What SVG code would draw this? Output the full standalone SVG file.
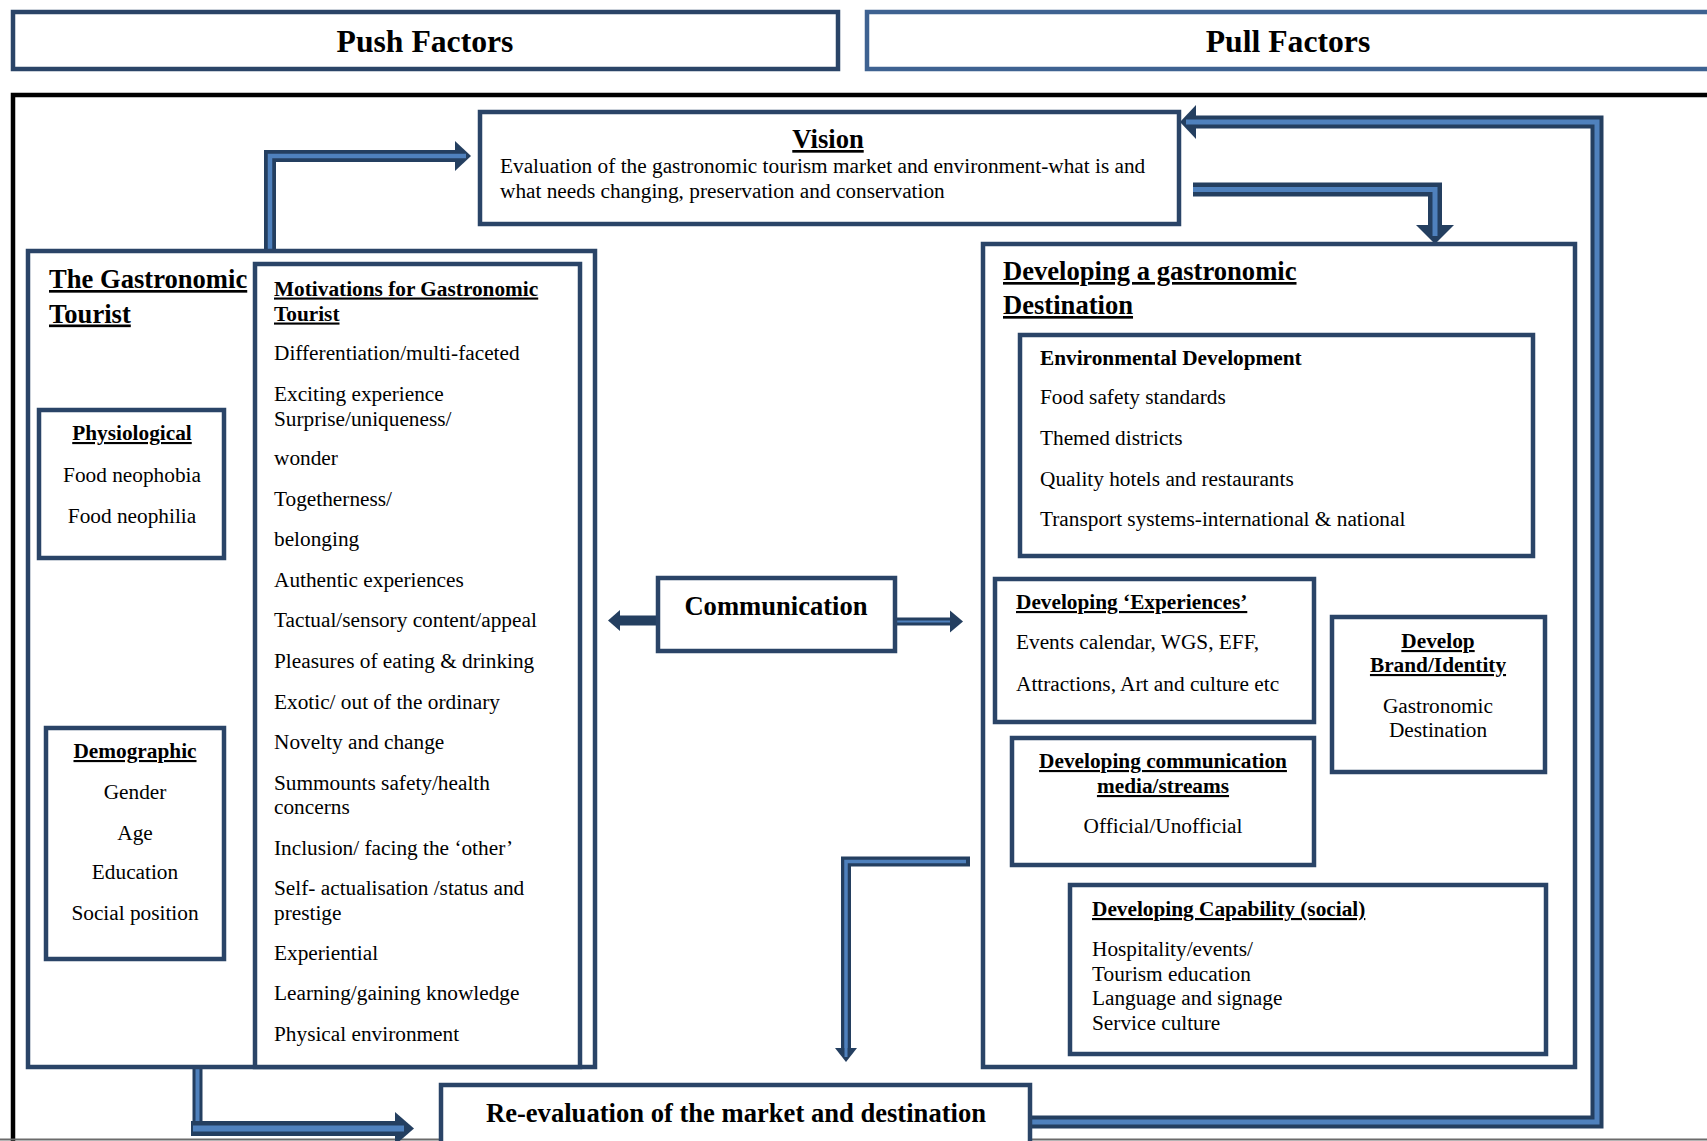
<svg xmlns="http://www.w3.org/2000/svg" width="1707" height="1141" viewBox="0 0 1707 1141">
  <style>
    .box { fill: #ffffff; stroke: #2A4467; stroke-width: 4.5; }
    .pull { fill: #ffffff; stroke: #3E6291; stroke-width: 4.5; }
    .frame { fill: none; stroke: #000000; stroke-width: 4.5; }
    .t { font-family: "Liberation Serif", "Times New Roman", serif; font-size: 21.3px; fill: #000000; }
    .b { font-weight: bold; }
    .u { text-decoration: underline; }
    .h { font-size: 26.6px; font-weight: bold; }
    .top { font-size: 31.7px; font-weight: bold; }
    .mid { text-anchor: middle; }
    .shaft { fill: none; stroke: #243F60; stroke-linejoin: miter; stroke-linecap: butt; }
    .core { fill: none; stroke: #4F81BD; stroke-linejoin: miter; stroke-linecap: butt; }
    .head { fill: #243F60; }
  </style>

  <rect width="1707" height="1141" fill="#ffffff"/>

  <!-- header bars -->
  <g id="push-factors">
    <rect class="box" x="13" y="12" width="825" height="57"/>
    <text class="t top mid" x="425" y="52">Push Factors</text>
  </g>
  <g id="pull-factors">
    <rect class="pull" x="867" y="12" width="900" height="57"/>
    <text class="t top mid" x="1288" y="52">Pull Factors</text>
  </g>

  <!-- outer frame -->
  <path class="frame" d="M1720,95 H13 V1145"/>
  <line x1="0" y1="1139.5" x2="1707" y2="1139.5" stroke="#6b6b6b" stroke-width="2"/>

  <!-- connectors -->
  <g id="connectors">
    <!-- tourist to vision -->
    <path class="shaft" stroke-width="12" d="M270,249 V156 H457"/>
    <path class="core" stroke-width="4.5" d="M270,249 V156 H464"/>
    <polygon class="head" points="455,141 471,156 455,171"/>
    <path class="core" stroke-width="4.5" d="M455,156 H466"/>

    <!-- vision to destination -->
    <path class="shaft" stroke-width="14" d="M1193,189.5 H1435 V227"/>
    <path class="core" stroke-width="5" d="M1193,189.5 H1435 V234"/>
    <polygon class="head" points="1416,225 1454,225 1435,244"/>
    <path class="core" stroke-width="5" d="M1435,225 V236"/>

    <!-- feedback loop: re-evaluation back to vision -->
    <path class="shaft" stroke-width="13" d="M1032,1122 H1597 V122 H1194"/>
    <path class="core" stroke-width="5" d="M1032,1122 H1597 V122 H1188"/>
    <polygon class="head" points="1196,105 1180,122 1196,139"/>
    <path class="core" stroke-width="5" d="M1196,122 H1186"/>

    <!-- tourist to re-evaluation -->
    <path class="shaft" stroke-width="10" d="M197.5,1069 V1128"/>
    <path class="core" stroke-width="4" d="M197.5,1069 V1128"/>
    <path class="shaft" stroke-width="15" d="M191,1128.5 H396"/>
    <path class="core" stroke-width="6" d="M193,1128.5 H402"/>
    <polygon class="head" points="395,1112 414,1128.5 395,1145"/>
    <path class="core" stroke-width="6" d="M395,1128.5 H404"/>

    <!-- destination down to re-evaluation -->
    <path class="shaft" stroke-width="10" d="M970,861.5 H846 V1050"/>
    <path class="core" stroke-width="3.5" d="M966,861.5 H846 V1056"/>
    <polygon class="head" points="835,1048 857,1048 846,1062"/>
    <path class="core" stroke-width="3" d="M846,1048 V1057"/>

    <!-- communication both ways -->
    <path class="shaft" stroke-width="10" d="M657,620.5 H618"/>
    <polygon class="head" points="620,610 608,620.5 620,631"/>
    <path class="shaft" stroke-width="8" d="M897,621.5 H953"/>
    <path class="core" stroke-width="2" d="M897,621.5 H955"/>
    <polygon class="head" points="950,610.5 963,621.5 950,632.5"/>
  </g>

  <!-- vision -->
  <g id="vision">
    <rect class="box" x="480" y="112" width="699" height="112"/>
    <text class="t h u mid" x="828" y="148">Vision</text>
    <text class="t" x="500" y="172.5">Evaluation of the gastronomic tourism market and environment-what is and</text>
    <text class="t" x="500" y="197.5">what needs changing, preservation and conservation</text>
  </g>

  <!-- gastronomic tourist -->
  <g id="gastronomic-tourist">
    <rect class="box" x="28" y="251" width="567" height="816"/>
    <text class="t h u" x="49" y="288">The Gastronomic</text>
    <text class="t h u" x="49" y="322.5">Tourist</text>
  </g>

  <g id="motivations">
    <rect class="box" x="255" y="264" width="325" height="803"/>
    <text class="t b u" x="274" y="295.5">Motivations for Gastronomic</text>
    <text class="t b u" x="274" y="320.5">Tourist</text>
    <text class="t" x="274" y="360">Differentiation/multi-faceted</text>
    <text class="t" x="274" y="401">Exciting experience</text>
    <text class="t" x="274" y="426">Surprise/uniqueness/</text>
    <text class="t" x="274" y="465">wonder</text>
    <text class="t" x="274" y="506">Togetherness/</text>
    <text class="t" x="274" y="546">belonging</text>
    <text class="t" x="274" y="587">Authentic experiences</text>
    <text class="t" x="274" y="627">Tactual/sensory content/appeal</text>
    <text class="t" x="274" y="668">Pleasures of eating &amp; drinking</text>
    <text class="t" x="274" y="709">Exotic/ out of the ordinary</text>
    <text class="t" x="274" y="749">Novelty and change</text>
    <text class="t" x="274" y="790">Summounts safety/health</text>
    <text class="t" x="274" y="814">concerns</text>
    <text class="t" x="274" y="855">Inclusion/ facing the ‘other’</text>
    <text class="t" x="274" y="895">Self- actualisation /status and</text>
    <text class="t" x="274" y="920">prestige</text>
    <text class="t" x="274" y="960">Experiential</text>
    <text class="t" x="274" y="1000">Learning/gaining knowledge</text>
    <text class="t" x="274" y="1041">Physical environment</text>
  </g>

  <g id="physiological">
    <rect class="box" x="39" y="410" width="185" height="148"/>
    <text class="t b u mid" x="132" y="440">Physiological</text>
    <text class="t mid" x="132" y="481.5">Food neophobia</text>
    <text class="t mid" x="132" y="523">Food neophilia</text>
  </g>

  <g id="demographic">
    <rect class="box" x="46" y="728" width="178" height="231"/>
    <text class="t b u mid" x="135" y="758">Demographic</text>
    <text class="t mid" x="135" y="798.5">Gender</text>
    <text class="t mid" x="135" y="840">Age</text>
    <text class="t mid" x="135" y="879">Education</text>
    <text class="t mid" x="135" y="920">Social position</text>
  </g>

  <!-- communication -->
  <g id="communication">
    <rect class="box" x="658" y="578" width="237" height="73"/>
    <text class="t h mid" x="776" y="615">Communication</text>
  </g>

  <!-- destination development -->
  <g id="developing-destination">
    <rect class="box" x="983" y="244" width="592" height="823"/>
    <text class="t h u" x="1003" y="280">Developing a gastronomic</text>
    <text class="t h u" x="1003" y="314">Destination</text>
  </g>

  <g id="environmental-development">
    <rect class="box" x="1020" y="335" width="513" height="221"/>
    <text class="t b" x="1040" y="365">Environmental Development</text>
    <text class="t" x="1040" y="404">Food safety standards</text>
    <text class="t" x="1040" y="445">Themed districts</text>
    <text class="t" x="1040" y="486">Quality hotels and restaurants</text>
    <text class="t" x="1040" y="526">Transport systems-international &amp; national</text>
  </g>

  <g id="developing-experiences">
    <rect class="box" x="995" y="579" width="319" height="143"/>
    <text class="t b u" x="1016" y="609">Developing ‘Experiences’</text>
    <text class="t" x="1016" y="649">Events calendar, WGS, EFF,</text>
    <text class="t" x="1016" y="690.5">Attractions, Art and culture etc</text>
  </g>

  <g id="develop-brand">
    <rect class="box" x="1332" y="617" width="213" height="155"/>
    <text class="t b u mid" x="1438" y="648">Develop</text>
    <text class="t b u mid" x="1438" y="672">Brand/Identity</text>
    <text class="t mid" x="1438" y="712.5">Gastronomic</text>
    <text class="t mid" x="1438" y="736.5">Destination</text>
  </g>

  <g id="developing-communication">
    <rect class="box" x="1012" y="738" width="302" height="127"/>
    <text class="t b u mid" x="1163" y="768">Developing communication</text>
    <text class="t b u mid" x="1163" y="793">media/streams</text>
    <text class="t mid" x="1163" y="833">Official/Unofficial</text>
  </g>

  <g id="developing-capability">
    <rect class="box" x="1070" y="885" width="476" height="169"/>
    <text class="t b u" x="1092" y="916">Developing Capability (social)</text>
    <text class="t" x="1092" y="956">Hospitality/events/</text>
    <text class="t" x="1092" y="981">Tourism education</text>
    <text class="t" x="1092" y="1005">Language and signage</text>
    <text class="t" x="1092" y="1030">Service culture</text>
  </g>

  <!-- re-evaluation -->
  <g id="re-evaluation">
    <rect class="box" x="441" y="1085" width="589" height="80"/>
    <text class="t h mid" x="736" y="1121.5">Re-evaluation of the market and destination</text>
  </g>
</svg>
